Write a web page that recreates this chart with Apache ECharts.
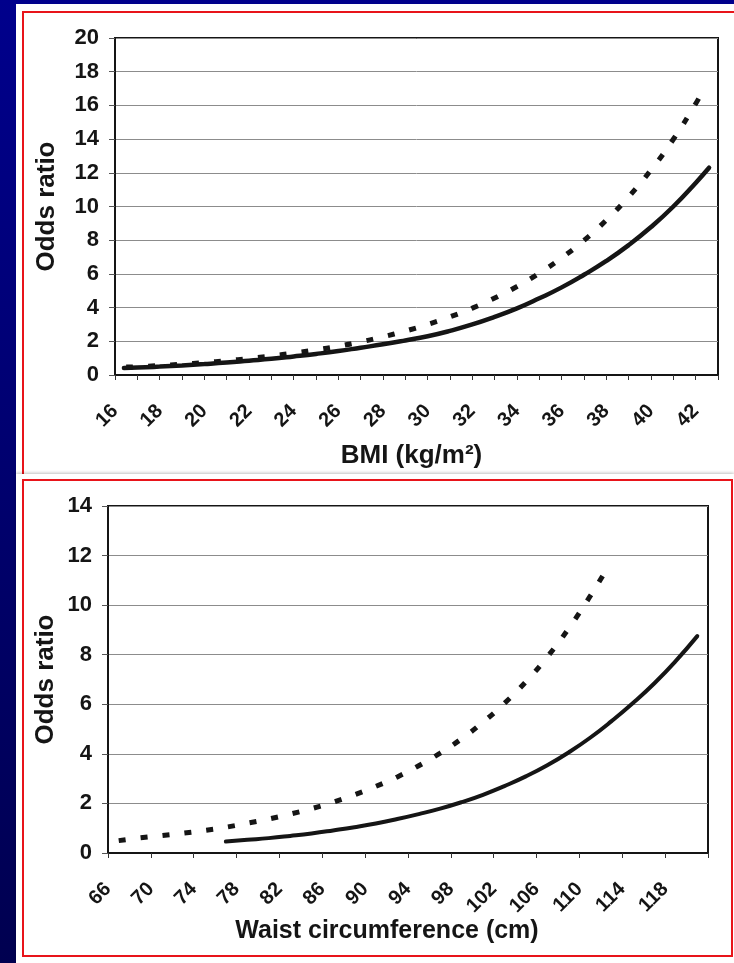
<!DOCTYPE html>
<html>
<head>
<meta charset="utf-8">
<script src="https://cdn.jsdelivr.net/npm/echarts@6/dist/echarts.min.js"></script>
<style>
  body {
    margin: 0;
    width: 734px;
    height: 963px;
    overflow: hidden;
    position: relative;
    background: linear-gradient(to bottom, #00008c, #000050);
  }
  .panel { position: absolute; background: #fff; }
  .frame { position: absolute; box-sizing: border-box; border: 2px solid #e8141a; }
  #chart { position: absolute; left: 0; top: 0; width: 734px; height: 963px; }
</style>
</head>
<body>
<div class="panel" style="left:16px;top:4px;width:718px;height:470px"></div>
<div class="frame" style="left:22px;top:11px;width:760px;height:470px;border-right:none;border-bottom:none"></div>
<div class="panel" style="left:16px;top:474px;width:718px;height:489px;box-shadow:0 -1px 3px rgba(0,0,0,0.25)"></div>
<div class="frame" style="left:22px;top:479px;width:711px;height:478px"></div>
<div id="chart"></div>
<script>
// BMI panel (top)
const bmiSolidX = [16.4, 17, 18, 19, 20, 21, 22, 23, 24, 25, 26, 27, 28, 29, 30, 31, 32, 33, 34, 35, 36, 37, 38, 39, 40, 41, 42, 42.6]
const bmiSolidOR = [0.42, 0.44, 0.50, 0.57, 0.65, 0.74, 0.85, 0.96, 1.10, 1.25, 1.42, 1.62, 1.82, 2.05, 2.30, 2.62, 3.00, 3.45, 3.95, 4.55, 5.20, 5.95, 6.77, 7.71, 8.78, 10.0, 11.4, 12.3]
const bmiDashX = [16.5, 17, 18, 19, 20, 21, 22, 23, 24, 25, 26, 27, 28, 29, 30, 31, 32, 33, 34, 35, 36, 37, 38, 39, 40, 41, 42, 42.3]
const bmiDashOR = [0.47, 0.49, 0.56, 0.64, 0.74, 0.85, 0.98, 1.13, 1.30, 1.49, 1.71, 1.97, 2.27, 2.61, 3.00, 3.45, 3.97, 4.57, 5.25, 6.04, 6.95, 7.99, 9.19, 10.58, 12.17, 13.99, 16.10, 16.8]

// waist panel (bottom)
const waistSolidX = [77, 79, 81, 83, 85, 87, 89, 91, 93, 95, 97, 99, 101, 103, 105, 107, 109, 111, 113, 115, 117, 119, 121]
const waistSolidOR = [0.46, 0.53, 0.60, 0.69, 0.79, 0.91, 1.04, 1.19, 1.37, 1.57, 1.79, 2.05, 2.35, 2.70, 3.09, 3.54, 4.06, 4.65, 5.32, 6.05, 6.85, 7.75, 8.75]
const waistDashX = [67, 69, 71, 73, 75, 77, 79, 81, 83, 85, 87, 89, 91, 93, 95, 97, 99, 101, 103, 105, 107, 109, 111, 112.2]
const waistDashOR = [0.50, 0.61, 0.70, 0.80, 0.91, 1.04, 1.20, 1.37, 1.57, 1.79, 2.05, 2.35, 2.69, 3.07, 3.52, 4.03, 4.61, 5.28, 6.04, 6.91, 7.91, 9.06, 10.36, 11.2]

const font = '"Liberation Sans", Arial, sans-serif'
const ink = '#151515'

function pairs (xs, ys) {
  return xs.map((x, i) => [x, ys[i]])
}

function xAxisFor (idx, min, max, step, lastHidden, name, nameGap, nameSize, namePad) {
  return {
    type: 'value',
    gridIndex: idx,
    min: min,
    max: max,
    interval: step,
    name: name,
    nameLocation: 'middle',
    nameGap: nameGap,
    nameMoveOverlap: false,
    nameTextStyle: { fontFamily: font, fontSize: nameSize, fontWeight: 'bold', color: ink, padding: namePad },
    axisLine: { show: true, lineStyle: { color: ink, width: 2 } },
    axisTick: { show: true, length: 5, lineStyle: { color: '#333', width: 1 } },
    axisLabel: {
      rotate: 45,
      margin: 33,
      fontFamily: font,
      fontSize: 20,
      fontWeight: 'bold',
      color: ink,
      showMaxLabel: true,
      formatter: function (v) {
        if (v === lastHidden) return ''
        if (idx === 0 && v % 2 !== 0) return ''
        return String(v)
      }
    },
    splitLine: { show: false }
  }
}

function yAxisFor (idx, max, nameGap) {
  return {
    type: 'value',
    gridIndex: idx,
    min: 0,
    max: max,
    interval: 2,
    name: 'Odds ratio',
    nameLocation: 'middle',
    nameGap: nameGap,
    nameMoveOverlap: false,
    nameTextStyle: { fontFamily: font, fontSize: 26, fontWeight: 'bold', color: ink },
    axisLine: { show: true, lineStyle: { color: ink, width: 2 } },
    axisTick: { show: true, length: 6, lineStyle: { color: '#555', width: 1 } },
    axisLabel: { margin: 16, fontFamily: font, fontSize: 22, fontWeight: 'bold', color: ink },
    splitLine: { show: true, lineStyle: { color: '#8c8c8c', width: 1 } }
  }
}

function curve (idx, data, dashed, width) {
  return {
    type: 'line',
    xAxisIndex: idx,
    yAxisIndex: idx,
    data: data,
    smooth: true,
    showSymbol: false,
    silent: true,
    lineStyle: {
      color: ink,
      width: width,
      type: dashed ? [7, 15] : 'solid',
      cap: dashed ? 'butt' : 'round'
    }
  }
}

const chart = echarts.init(document.getElementById('chart'), null, { renderer: 'canvas' })
chart.setOption({
  animation: false,
  backgroundColor: 'transparent',
  grid: [
    { left: 115, top: 38, width: 603, height: 337, show: true, borderColor: ink, borderWidth: 2, outerBoundsMode: 'none' },
    { left: 108, top: 506, width: 600, height: 347, show: true, borderColor: ink, borderWidth: 2, outerBoundsMode: 'none' }
  ],
  xAxis: [
    xAxisFor(0, 16, 43, 1, 43, 'BMI (kg/m²)', 68, 26, [0, 10, 0, 0]),
    xAxisFor(1, 66, 122, 4, 122, 'Waist circumference (cm)', 66, 25, [0, 42, 0, 0])
  ],
  yAxis: [
    yAxisFor(0, 20, 55),
    yAxisFor(1, 14, 49)
  ],
  series: [
    curve(0, pairs(bmiSolidX, bmiSolidOR), false, 4.5),
    curve(0, pairs(bmiDashX, bmiDashOR), true, 5),
    curve(1, pairs(waistSolidX, waistSolidOR), false, 4),
    curve(1, pairs(waistDashX, waistDashOR), true, 5)
  ]
})
</script>
</body>
</html>
